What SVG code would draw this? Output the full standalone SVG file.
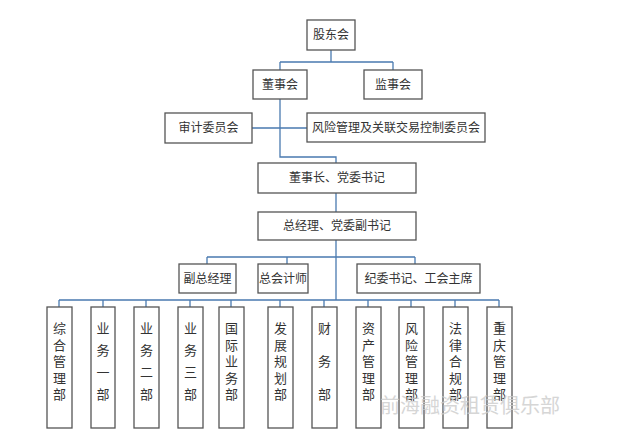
<svg xmlns="http://www.w3.org/2000/svg" width="640" height="438" viewBox="0 0 640 438">
<style>
.b{fill:#fff;stroke:#555;stroke-width:1.3}
.t{font-family:"Noto Sans CJK SC","Noto Sans",sans-serif;font-size:12px;fill:#333;text-anchor:middle}
.v{font-family:"Noto Sans CJK SC","Noto Sans",sans-serif;font-size:13px;fill:#333;text-anchor:middle}
.c{fill:none;stroke:#4a7ab0;stroke-width:1.3}
</style>
<rect width="640" height="438" fill="#fff"/>
<g id="connectors" class="c">
<path d="M331 50V62M280 62H393M280 62V70M393 62V70"/>
<path d="M280 99V157H336V163M252 128H307"/>
<path d="M336 193V212M336 240V300M207 257H415M207 257V264M287 257V264M415 257V264"/>
<path d="M59 300H499M59 300V307M103 300V307M146 300V307M190 300V307M231 300V307M280 300V307M324 300V307M368 300V307M411 300V307M455 300V307M499 300V307"/>
</g>
<g id="n1"><rect class="b" x="307" y="20" width="48" height="30"/><text class="t" x="331" y="39">股东会</text></g>
<g id="n2"><rect class="b" x="253" y="70" width="54" height="29"/><text class="t" x="280" y="89">董事会</text></g>
<g id="n3"><rect class="b" x="364" y="70" width="58" height="29"/><text class="t" x="393" y="89">监事会</text></g>
<g id="n4"><rect class="b" x="165" y="113" width="87" height="30"/><text class="t" x="208.500" y="132">审计委员会</text></g>
<g id="n5"><rect class="b" x="307" y="113" width="178" height="29"/><text class="t" x="396" y="132">风险管理及关联交易控制委员会</text></g>
<g id="n6"><rect class="b" x="258" y="163" width="158" height="30"/><text class="t" x="337" y="182">董事长、党委书记</text></g>
<g id="n7"><rect class="b" x="258" y="212" width="158" height="28"/><text class="t" x="337" y="230">总经理、党委副书记</text></g>
<g id="n8"><rect class="b" x="179" y="264" width="57" height="29"/><text class="t" x="207.500" y="283">副总经理</text></g>
<g id="n9"><rect class="b" x="258" y="264" width="50" height="29"/><text class="t" x="283" y="283">总会计师</text></g>
<g id="n10"><rect class="b" x="357" y="264" width="123" height="29"/><text class="t" x="418.500" y="283">纪委书记、工会主席</text></g>
<g id="d1"><rect class="b" x="47" y="307" width="25" height="121"/><text class="v"><tspan x="59.500" y="333">综</tspan><tspan x="59.500" y="349.500">合</tspan><tspan x="59.500" y="366">管</tspan><tspan x="59.500" y="382.500">理</tspan><tspan x="59.500" y="399">部</tspan></text></g>
<g id="d2"><rect class="b" x="91" y="307" width="24" height="121"/><text class="v"><tspan x="103" y="333">业</tspan><tspan x="103" y="355">务</tspan><tspan x="103" y="377">一</tspan><tspan x="103" y="399">部</tspan></text></g>
<g id="d3"><rect class="b" x="134" y="307" width="25" height="121"/><text class="v"><tspan x="146.500" y="333">业</tspan><tspan x="146.500" y="355">务</tspan><tspan x="146.500" y="377">二</tspan><tspan x="146.500" y="399">部</tspan></text></g>
<g id="d4"><rect class="b" x="178" y="307" width="25" height="121"/><text class="v"><tspan x="190.500" y="333">业</tspan><tspan x="190.500" y="355">务</tspan><tspan x="190.500" y="377">三</tspan><tspan x="190.500" y="399">部</tspan></text></g>
<g id="d5"><rect class="b" x="219" y="307" width="25" height="121"/><text class="v"><tspan x="231.500" y="333">国</tspan><tspan x="231.500" y="349.500">际</tspan><tspan x="231.500" y="366">业</tspan><tspan x="231.500" y="382.500">务</tspan><tspan x="231.500" y="399">部</tspan></text></g>
<g id="d6"><rect class="b" x="268" y="307" width="25" height="121"/><text class="v"><tspan x="280.500" y="333">发</tspan><tspan x="280.500" y="349.500">展</tspan><tspan x="280.500" y="366">规</tspan><tspan x="280.500" y="382.500">划</tspan><tspan x="280.500" y="399">部</tspan></text></g>
<g id="d7"><rect class="b" x="312" y="307" width="25" height="121"/><text class="v"><tspan x="324.500" y="333">财</tspan><tspan x="324.500" y="366">务</tspan><tspan x="324.500" y="399">部</tspan></text></g>
<g id="d8"><rect class="b" x="356" y="307" width="25" height="121"/><text class="v"><tspan x="368.500" y="333">资</tspan><tspan x="368.500" y="349.500">产</tspan><tspan x="368.500" y="366">管</tspan><tspan x="368.500" y="382.500">理</tspan><tspan x="368.500" y="399">部</tspan></text></g>
<g id="d9"><rect class="b" x="399" y="307" width="25" height="121"/><text class="v"><tspan x="411.500" y="333">风</tspan><tspan x="411.500" y="349.500">险</tspan><tspan x="411.500" y="366">管</tspan><tspan x="411.500" y="382.500">理</tspan><tspan x="411.500" y="399">部</tspan></text></g>
<g id="d10"><rect class="b" x="443" y="307" width="25" height="121"/><text class="v"><tspan x="455.500" y="333">法</tspan><tspan x="455.500" y="349.500">律</tspan><tspan x="455.500" y="366">合</tspan><tspan x="455.500" y="382.500">规</tspan><tspan x="455.500" y="399">部</tspan></text></g>
<g id="d11"><rect class="b" x="487" y="307" width="25" height="121"/><text class="v"><tspan x="499.500" y="333">重</tspan><tspan x="499.500" y="349.500">庆</tspan><tspan x="499.500" y="366">管</tspan><tspan x="499.500" y="382.500">理</tspan><tspan x="499.500" y="399">部</tspan></text></g>
<text x="380" y="413" font-family="Noto Sans CJK SC,sans-serif" font-size="20" fill="#ccc" opacity="0.8">前海融资租赁俱乐部</text>
</svg>
